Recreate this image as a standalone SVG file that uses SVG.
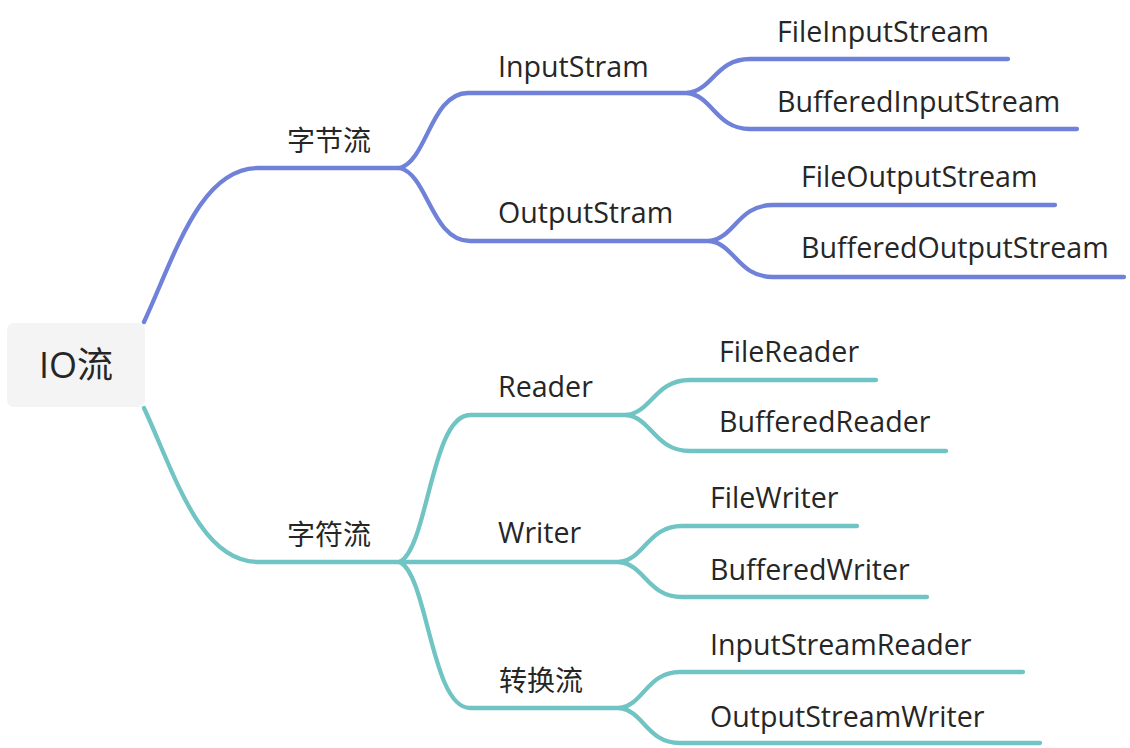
<svg xmlns="http://www.w3.org/2000/svg" width="1130" height="748" viewBox="0 0 1130 748">
<style>
.e{fill:none;stroke-width:4.3;stroke-linecap:round;stroke-linejoin:round}
.b{stroke:#7081d9}
.t{stroke:#70c4c3}
.l{font-family:"Open Sans","Noto Sans CJK SC",sans-serif;font-size:28.6px;fill:#262626}
.c{font-family:"Noto Sans CJK SC",sans-serif;font-size:28px;fill:#262626}
</style>
<rect width="1130" height="748" fill="#ffffff"/>
<g id="connectors">
<path class="e b" d="M144,322 C175,255 200,168 258,168 L400,168"/>
<path class="e t" d="M144,408 C175,475 200,562 258,562 L400,562"/>
<path class="e b" d="M400,168 C427,160.5 431,93 468,93 L688,93"/>
<path class="e b" d="M400,168 C428,175 431.5,241 470,241 L710,241"/>
<path class="e b" d="M688,93 C713,89.6 716,59 750,59 L1008,59"/>
<path class="e b" d="M688,93 C713,96.6 716,129 750,129 L1077,129"/>
<path class="e b" d="M710,241 C735,237.4 738,205 773,205 L1055,205"/>
<path class="e b" d="M710,241 C735,244.6 738,277 773,277 L1124,277"/>
<path class="e t" d="M400,562 C428,547 431.5,415 470,415 L627,415"/>
<path class="e t" d="M400,562 L622,562"/>
<path class="e t" d="M400,562 C428,577 431.5,708 470,708 L620,708"/>
<path class="e t" d="M627,415 C652,411.5 655,380 690,380 L876,380"/>
<path class="e t" d="M627,415 C652,418.6 655,451 690,451 L946,451"/>
<path class="e t" d="M620,562 C645,558.4 648,526 682,526 L857,526"/>
<path class="e t" d="M620,562 C645,565.5 648,597 682,597 L927,597"/>
<path class="e t" d="M620,708 C644,704.4 647,672 680,672 L1023,672"/>
<path class="e t" d="M620,708 C644,711.5 647,743 680,743 L1040,743"/>
</g>
<g id="root">
<rect x="7" y="323" width="138" height="84" rx="7" fill="#f4f4f4"/>
<text x="76" y="378" text-anchor="middle" font-family="'Open Sans','Noto Sans CJK SC',sans-serif" font-size="36" fill="#262626">IO流</text>
</g>
<g id="n-byte"><text class="c" x="287" y="151">字节流</text></g>
<g id="n-char"><text class="c" x="287" y="545">字符流</text></g>
<g id="n-inputstram"><text class="l" x="498" y="77">InputStram</text></g>
<g id="n-outputstram"><text class="l" x="498" y="223">OutputStram</text></g>
<g id="n-fileinputstream"><text class="l" x="777" y="42">FileInputStream</text></g>
<g id="n-bufferedinputstream"><text class="l" x="777" y="112">BufferedInputStream</text></g>
<g id="n-fileoutputstream"><text class="l" x="801" y="187">FileOutputStream</text></g>
<g id="n-bufferedoutputstream"><text class="l" x="801" y="258">BufferedOutputStream</text></g>
<g id="n-reader"><text class="l" x="498" y="397">Reader</text></g>
<g id="n-writer"><text class="l" x="498" y="543">Writer</text></g>
<g id="n-convert"><text class="c" x="499" y="691">转换流</text></g>
<g id="n-filereader"><text class="l" x="719" y="362">FileReader</text></g>
<g id="n-bufferedreader"><text class="l" x="719" y="432">BufferedReader</text></g>
<g id="n-filewriter"><text class="l" x="710" y="508">FileWriter</text></g>
<g id="n-bufferedwriter"><text class="l" x="710" y="580">BufferedWriter</text></g>
<g id="n-inputstreamreader"><text class="l" x="710" y="655">InputStreamReader</text></g>
<g id="n-outputstreamwriter"><text class="l" x="710" y="727">OutputStreamWriter</text></g>
</svg>
